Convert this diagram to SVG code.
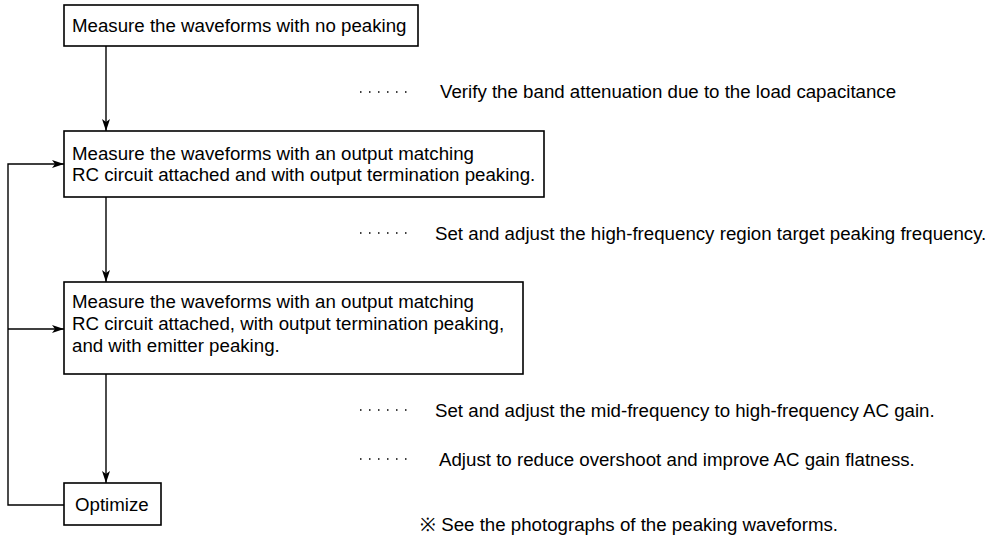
<svg xmlns="http://www.w3.org/2000/svg" width="989" height="542" viewBox="0 0 989 542">
<defs>
<style>
.box{fill:#fff;stroke:#000;stroke-width:1.6}
.t{font-family:"Liberation Sans",Arial,sans-serif;font-size:18.7px;fill:#000}
.ln{fill:none;stroke:#000;stroke-width:1.4}
.dots{fill:none;stroke:#000;stroke-width:1.6;stroke-dasharray:1.5 7.5}
</style>
<marker id="ah" viewBox="0 0 12 8" refX="12" refY="4" markerWidth="12" markerHeight="8" markerUnits="userSpaceOnUse" orient="auto">
<path d="M0,0 L12,4 L0,8 L3,4 Z" fill="#000"/>
</marker>
</defs>
<rect width="989" height="542" fill="#fff"/>
<g id="connectors">
<line class="ln" x1="106" y1="46" x2="106" y2="131" marker-end="url(#ah)"/>
<line class="ln" x1="106" y1="197" x2="106" y2="282" marker-end="url(#ah)"/>
<line class="ln" x1="106" y1="374" x2="106" y2="483" marker-end="url(#ah)"/>
<polyline class="ln" points="64,505 8,505 8,164 64,164" marker-end="url(#ah)"/>
<line class="ln" x1="8" y1="329" x2="64" y2="329" marker-end="url(#ah)"/>
</g>
<g id="node1">
<rect class="box" x="64" y="5" width="354" height="41"/>
<text class="t" x="72" y="32">Measure the waveforms with no peaking</text>
</g>
<g id="node2">
<rect class="box" x="64" y="131" width="480" height="66"/>
<text class="t" x="72" y="160">Measure the waveforms with an output matching</text>
<text class="t" x="72" y="181">RC circuit attached and with output termination peaking.</text>
</g>
<g id="node3">
<rect class="box" x="64" y="282" width="459" height="92"/>
<text class="t" x="72" y="308">Measure the waveforms with an output matching</text>
<text class="t" x="72" y="330">RC circuit attached, with output termination peaking,</text>
<text class="t" x="72" y="352">and with emitter peaking.</text>
</g>
<g id="node4">
<rect class="box" x="64" y="483" width="97" height="42"/>
<text class="t" x="75" y="511">Optimize</text>
</g>
<g id="notes">
<line class="dots" x1="360" y1="92" x2="412" y2="92"/>
<text class="t" x="440" y="98">Verify the band attenuation due to the load capacitance</text>
<line class="dots" x1="360" y1="233" x2="412" y2="233"/>
<text class="t" x="435" y="240">Set and adjust the high-frequency region target peaking frequency.</text>
<line class="dots" x1="360" y1="410" x2="412" y2="410"/>
<text class="t" x="435" y="417">Set and adjust the mid-frequency to high-frequency AC gain.</text>
<line class="dots" x1="360" y1="459" x2="412" y2="459"/>
<text class="t" x="439" y="466">Adjust to reduce overshoot and improve AC gain flatness.</text>
<text class="t" x="420" y="531">※ See the photographs of the peaking waveforms.</text>
</g>
</svg>
